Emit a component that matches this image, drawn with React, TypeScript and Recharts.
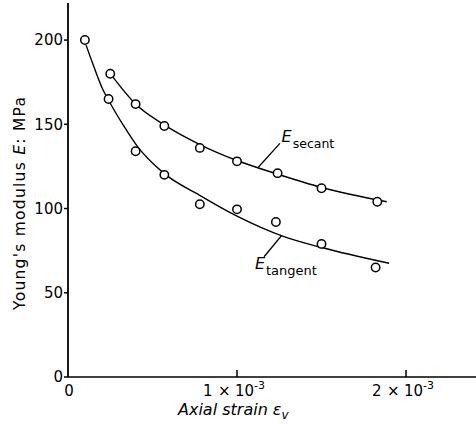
import { ComposedChart, Line, Scatter, XAxis, YAxis, ReferenceLine } from "recharts"

// strain is kept in units of 1e-3
const strainTicks = [0, 1, 2]
const modulusTicks = [0, 50, 100, 150, 200]

// measured points
const tangentStrain = [0.1, 0.24, 0.4, 0.57, 0.78, 1.0, 1.23, 1.5, 1.82]
const tangentE = [200, 165, 134, 120, 102.5, 99.5, 92, 79, 65]
const secantStrain = [0.25, 0.4, 0.57, 0.78, 1.0, 1.24, 1.5, 1.83]
const secantE = [180, 162, 149, 136, 128, 121, 112, 104]

// fitted curves as drawn in the figure
const tangentCurveStrain = [0.107, 0.15, 0.2, 0.25, 0.33, 0.406, 0.566, 0.777, 1.0, 1.274, 1.495, 1.9]
const tangentCurveE = [197, 185, 172, 162.5, 149, 137.5, 121, 108, 95.5, 83.5, 77, 67.5]
const secantCurveStrain = [0.266, 0.4, 0.572, 0.78, 1.0, 1.237, 1.5, 1.886]
const secantCurveE = [178, 162, 149.5, 138, 128.5, 120.5, 112.5, 104]

const zip = (xs: number[], ys: number[]) => xs.map((strain, i) => ({ strain, E: ys[i] }))

const tangentPts = zip(tangentStrain, tangentE)
const secantPts = zip(secantStrain, secantE)
const tangentCurve = zip(tangentCurveStrain, tangentCurveE)
const secantCurve = zip(secantCurveStrain, secantCurveE)

const font = "DejaVu Sans"

const Ring = (props: any) => (
  <circle cx={props.cx} cy={props.cy} r={4.2} fill="#fff" stroke="#000" strokeWidth={1.5} />
)

const XTick = (props: any) => {
  const { x, y, payload } = props
  const v = payload.value
  if (v === 0) {
    return (
      <text x={x + 1} y={y + 19} textAnchor="middle" fontFamily={font} fontSize={15} fill="#000">
        0
      </text>
    )
  }
  return (
    <g>
      <line x1={x} y1={y} x2={x} y2={y - 7} stroke="#000" strokeWidth={1.5} />
      <text x={x - 34} y={y + 19} fontFamily={font} fontSize={15} fill="#000">
        {v}
        <tspan x={x - 19}>×</tspan>
        <tspan x={x - 2}>10</tspan>
        <tspan fontSize={11} dy={-7}>
          -3
        </tspan>
      </text>
    </g>
  )
}

export default function App() {
  return (
    <div style={{ position: "absolute", left: 0, top: 0, width: 476, height: 424, background: "#fff" }}>
      <ComposedChart width={476} height={424} margin={{ top: 3, right: 0, bottom: 0, left: 0 }}>
        <XAxis
          type="number"
          dataKey="strain"
          domain={[0, 2.414]}
          ticks={strainTicks}
          allowDataOverflow
          height={47}
          tickSize={0}
          tickMargin={0}
          tickLine={false}
          tick={<XTick />}
          axisLine={{ stroke: "#000", strokeWidth: 1.5 }}
        />
        <YAxis
          type="number"
          dataKey="E"
          domain={[0, 222]}
          ticks={modulusTicks}
          allowDataOverflow
          width={68}
          tickSize={4}
          tickMargin={1}
          tick={{ fill: "#000", fontSize: 15, fontFamily: font }}
          tickLine={{ stroke: "#000", strokeWidth: 1.5 }}
          axisLine={{ stroke: "#000", strokeWidth: 1.8 }}
        />
        <Line data={secantCurve} dataKey="E" type="monotone" stroke="#000" strokeWidth={1.4} dot={false} isAnimationActive={false} />
        <Line data={tangentCurve} dataKey="E" type="monotone" stroke="#000" strokeWidth={1.4} dot={false} isAnimationActive={false} />
        <ReferenceLine segment={[{ x: 1.126, y: 124.5 }, { x: 1.254, y: 138.7 }]} stroke="#000" strokeWidth={1.3} />
        <ReferenceLine segment={[{ x: 1.264, y: 84 }, { x: 1.16, y: 71.4 }]} stroke="#000" strokeWidth={1.3} />
        <Scatter data={secantPts} shape={Ring} isAnimationActive={false} />
        <Scatter data={tangentPts} shape={Ring} isAnimationActive={false} />
      </ComposedChart>
      <svg width={476} height={424} style={{ position: "absolute", left: 0, top: 0, pointerEvents: "none" }}>
        <text
          transform="translate(25,203.5) rotate(-90)"
          textAnchor="middle"
          fontFamily={font}
          fontSize={15.5}
          fill="#000"
          textLength={213}
          lengthAdjust="spacing"
        >
          Young's modulus <tspan fontStyle="italic">E</tspan>: MPa
        </text>
        <text x={178} y={415} fontFamily={font} fontSize={16} fontStyle="italic" fill="#000">
          Axial strain ε
          <tspan fontSize={12} dy={4}>
            v
          </tspan>
        </text>
        <text x={281.5} y={142} fontFamily={font} fill="#000">
          <tspan fontSize={16} fontStyle="italic">E</tspan>
          <tspan x={292.7} y={148} fontSize={12.5}>
            secant
          </tspan>
        </text>
        <text x={255} y={269} fontFamily={font} fill="#000">
          <tspan fontSize={16} fontStyle="italic">E</tspan>
          <tspan x={266} y={275} fontSize={13}>
            tangent
          </tspan>
        </text>
      </svg>
    </div>
  )
}
